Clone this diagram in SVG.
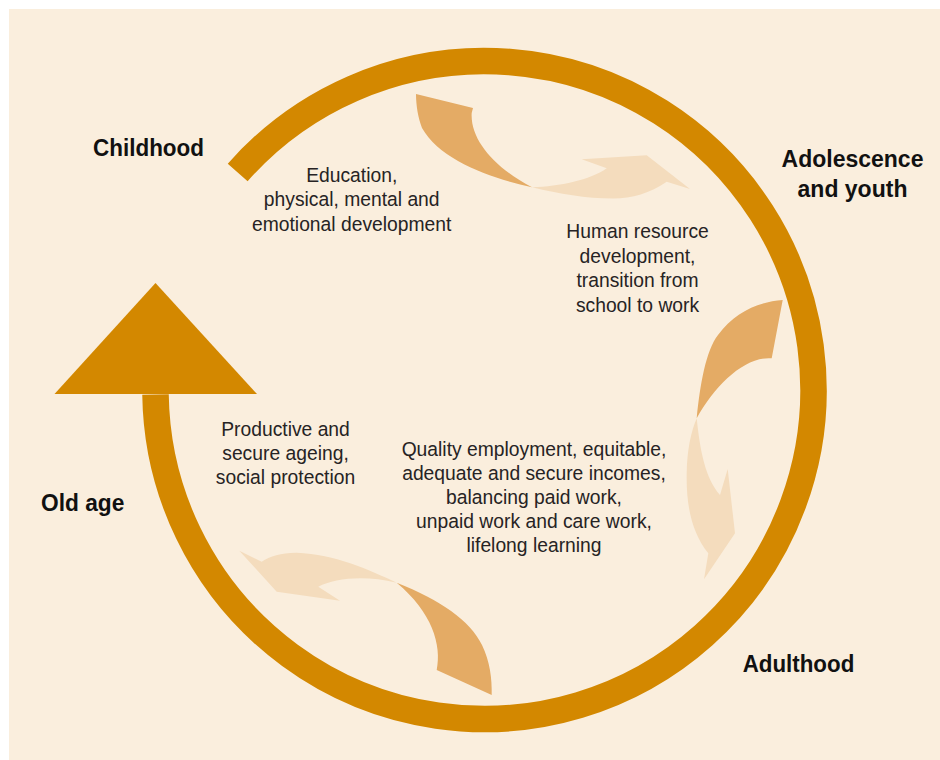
<svg xmlns="http://www.w3.org/2000/svg" width="940" height="760" viewBox="0 0 940 760">
  <style>
    .stage { font-family: "Liberation Sans", Arial, sans-serif; font-weight: bold; font-size: 23px; fill: #111111; }
    .note { font-family: "Liberation Sans", Arial, sans-serif; font-size: 19.3px; fill: #262324; text-anchor: middle; }
    .tail { fill: #E4AB65; }
    .head { fill: #F4DCBD; }
    .cycle { fill: none; stroke: #D38800; stroke-width: 26.5; stroke-linecap: butt; }
    .tip { fill: #D38800; }
  </style>

  <!-- page background -->
  <rect x="9" y="9" width="931" height="751" fill="#FAEEDD"/>

  <!-- life-cycle ring with its arrowhead -->
  <g id="connectors">
    <path class="cycle" d="M237.7,172.4 A329,329 0 1 1 155.5,394.5"/>
    <polygon class="tip" points="155.5,283 54.5,394 257,394"/>
  </g>

  <!-- twisted transition arrows between stages -->
  <g id="arrow-childhood-youth">
    <path class="tail" d="M416,94 L473,108 L471.7,113 C470,140 495,168 532,187.3 C490,178 440,160 422,128 C418,118 416,105 416,94 Z"/>
    <path class="head" d="M532,187.3 C560,186.5 590,180 606.7,168.3 L581.7,159.3 L646.7,155.3 L690,189 L666.7,181.7 C650,193 632,198.5 613.3,198.5 C585,198.5 560,194 532,187.3 Z"/>
  </g>
  <g id="arrow-youth-adulthood">
    <path class="tail" d="M782.7,300 L771.7,358.3 C745,356 715,385 696.7,418.3 C700,385 706,350 718,335 C735,312 758,302 782.7,300 Z"/>
    <path class="head" d="M696.7,418.3 C700,450 705,478 720,495 L727.7,469 L735,533.3 L704,579.3 L708.3,553.3 C692,533 686,506 686.7,473 C687,450 691,432 696.7,418.3 Z"/>
  </g>
  <g id="arrow-adulthood-oldage">
    <path class="tail" d="M491.7,695 L436.7,670 C442,645 432,612 396.7,582.7 C440,600 470,620 482,645 C490,662 492,678 491.7,695 Z"/>
    <path class="head" d="M396.7,582.7 C370,570 335,554 296.7,552.7 C282,552.5 270,556 261.7,561.7 L239.3,550.7 L276.7,591.7 L340,600.7 L318.3,586.7 C335,578 365,575 396.7,582.7 Z"/>
  </g>

  <!-- stage labels -->
  <g id="childhood">
    <text class="stage" x="93" y="156" textLength="111" lengthAdjust="spacingAndGlyphs">Childhood</text>
  </g>
  <g id="adolescence-youth">
    <text class="stage" x="852.5" y="166.7" text-anchor="middle">Adolescence</text>
    <text class="stage" x="852.5" y="196.7" text-anchor="middle">and youth</text>
  </g>
  <g id="adulthood">
    <text class="stage" x="742.7" y="671.7" textLength="111.6" lengthAdjust="spacingAndGlyphs">Adulthood</text>
  </g>
  <g id="old-age">
    <text class="stage" x="41" y="510.7" textLength="83.3" lengthAdjust="spacingAndGlyphs">Old age</text>
  </g>

  <!-- phase descriptions -->
  <g id="note-childhood">
    <text class="note" x="351.7" y="181.7">Education,</text>
    <text class="note" x="351.7" y="206.4">physical, mental and</text>
    <text class="note" x="351.7" y="230.8">emotional development</text>
  </g>
  <g id="note-youth">
    <text class="note" x="637.5" y="238.3">Human resource</text>
    <text class="note" x="637.5" y="262.8">development,</text>
    <text class="note" x="637.5" y="287.2">transition from</text>
    <text class="note" x="637.5" y="311.6">school to work</text>
  </g>
  <g id="note-adulthood">
    <text class="note" x="534" y="456">Quality employment, equitable,</text>
    <text class="note" x="534" y="480">adequate and secure incomes,</text>
    <text class="note" x="534" y="504">balancing paid work,</text>
    <text class="note" x="534" y="528">unpaid work and care work,</text>
    <text class="note" x="534" y="552">lifelong learning</text>
  </g>
  <g id="note-oldage">
    <text class="note" x="285.5" y="436">Productive and</text>
    <text class="note" x="285.5" y="460">secure ageing,</text>
    <text class="note" x="285.5" y="484">social protection</text>
  </g>
</svg>
